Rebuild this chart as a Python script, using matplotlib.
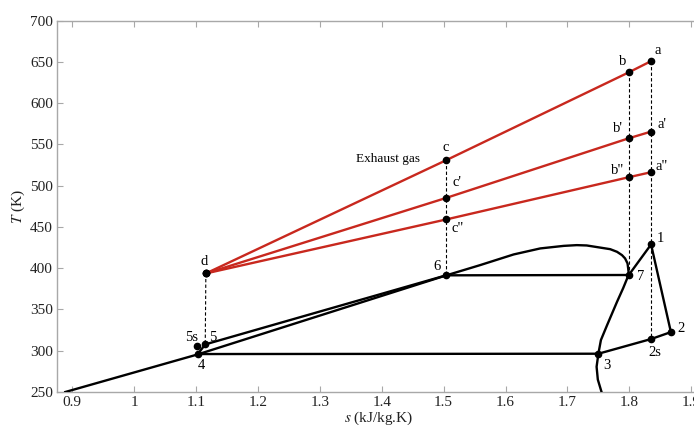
import matplotlib
matplotlib.use("Agg")
import matplotlib.pyplot as plt

plt.rcParams['font.family'] = ['Liberation Serif', 'DejaVu Serif']
plt.rcParams['mathtext.fontset'] = 'stix'

# Saturation dome (s in kJ/kg.K, T in K)
dome_s = [0.889, 1.103, 1.349, 1.504, 1.559, 1.613, 1.656, 1.694, 1.715, 1.731, 1.769,
          1.780, 1.788, 1.793, 1.797, 1.798, 1.799, 1.790, 1.780, 1.764, 1.754, 1.750,
          1.747, 1.749, 1.753, 1.755]
dome_T = [250.0, 295.6, 354.3, 391.3, 403.8, 416.7, 424.0, 427.1, 428.0, 427.6, 423.1,
          419.9, 415.9, 411.9, 405.8, 399.8, 392.5, 376.0, 359.3, 331.1, 313.0, 296.9,
          280.6, 265.0, 255.0, 250.0]

# ORC cycle state points
pt_names = ['1', '2', '2s', '3', '4', '5', '5s', '6', '7']
pt_s = [1.835, 1.867, 1.835, 1.750, 1.103, 1.115, 1.101, 1.504, 1.799]
pt_T = [428.8, 322.6, 314.2, 296.4, 296.0, 307.7, 305.7, 391.4, 391.8]

# cycle path order
cycle_order = ['3', '4', '5', '6', '7', '1', '2', '2s', '3']

# Exhaust gas lines (d -> c -> b -> a)
gas_s = [1.116, 1.504, 1.799, 1.835]
gas_T_high = [393.7, 530.9, 637.4, 651.0]
gas_T_mid = [393.7, 485.2, 557.5, 565.6]
gas_T_low = [393.7, 459.1, 510.3, 516.4]
gas_names_high = ['d', 'c', 'b', 'a']
gas_names_mid = [None, "c'", "b'", "a'"]
gas_names_low = [None, 'c"', 'b"', 'a"']

x_ticks = [0.9, 1.0, 1.1, 1.2, 1.3, 1.4, 1.5, 1.6, 1.7, 1.8, 1.9]
x_ticklabels = ['0.9', '1', '1.1', '1.2', '1.3', '1.4', '1.5', '1.6', '1.7', '1.8', '1.9']
y_ticks = [250, 300, 350, 400, 450, 500, 550, 600, 650, 700]

fig = plt.figure(figsize=(6.94, 4.25), dpi=100)
ax = fig.add_axes([57/694, 33/425, 643/694, 371.3/425])
ax.set_xlim(0.8756, 1.914)
ax.set_ylim(250, 700)

black = 'black'
red = '#c8281e'
lw = 1.7

# dome
ax.plot(dome_s, dome_T, color=black, lw=lw, zorder=3, solid_joinstyle='round')

P = dict(zip(pt_names, zip(pt_s, pt_T)))
cs = [P[n][0] for n in cycle_order]
cT = [P[n][1] for n in cycle_order]
ax.plot(cs, cT, color=black, lw=lw, zorder=3)

# gas lines
for Tg in (gas_T_high, gas_T_mid, gas_T_low):
    ax.plot(gas_s, Tg, color=red, lw=lw, zorder=3)

# dashed verticals
dash_kw = dict(color=black, lw=0.8, ls=(0, (3, 2)), zorder=2)
ax.plot([gas_s[0], P['5'][0]], [gas_T_high[0], P['5'][1]], **dash_kw)
ax.plot([gas_s[1], P['6'][0]], [gas_T_high[1], P['6'][1]], **dash_kw)
ax.plot([gas_s[2], P['7'][0]], [gas_T_high[2], P['7'][1]], **dash_kw)
ax.plot([gas_s[3], P['2s'][0]], [gas_T_high[3], P['2s'][1]], **dash_kw)

# markers
ax.plot(pt_s, pt_T, 'o', color=black, ms=4.5, zorder=5)
for Tg in (gas_T_high, gas_T_mid, gas_T_low):
    ax.plot(gas_s, Tg, 'o', color=black, ms=4.5, zorder=5)

fs = 10.5
offsets = {
    '1': (9, 6), '2': (10, 4), '2s': (4, -13), '3': (8, -12), '4': (4, -11),
    '5': (8, 7), '5s': (-5, 9), '6': (-9, 9), '7': (12, -2),
}
for n in pt_names:
    ax.annotate(n, P[n], xytext=offsets[n], textcoords='offset pixels',
                ha='center', va='center', fontsize=fs, zorder=6)

gas_offsets_high = [(-2, 12), (0, 13), (-6, 11), (7, 11)]
gas_offsets_mid = [None, (11, 15), (-11, 10), (11, 7)]
gas_offsets_low = [None, (12, -9), (-11, 7), (11, 6)]
for names, Tg, offs in ((gas_names_high, gas_T_high, gas_offsets_high),
                        (gas_names_mid, gas_T_mid, gas_offsets_mid),
                        (gas_names_low, gas_T_low, gas_offsets_low)):
    for n, s, T, o in zip(names, gas_s, Tg, offs):
        if n is None:
            continue
        ax.annotate(n, (s, T), xytext=o, textcoords='offset pixels',
                    ha='center', va='center', fontsize=fs, zorder=6)

ax.text(1.410, 532, 'Exhaust gas', ha='center', va='center', fontsize=9.5)

# axes styling
spine_c = '#a8a8a8'
for side in ('left', 'bottom', 'top', 'right'):
    ax.spines[side].set_color(spine_c)
    ax.spines[side].set_linewidth(1.0)
ax.set_xticks(x_ticks)
ax.set_xticklabels(x_ticklabels)
ax.set_yticks(y_ticks)
ax.tick_params(direction='in', length=4, width=0.8, color=spine_c,
               labelsize=11, top=True, right=True, pad=3, labelcolor='#222222')

ax.set_xlabel(r'$s$ (kJ/kg.K)', fontsize=11, labelpad=0, color='#222222')
ax.set_ylabel(r'$T$ (K)', fontsize=11, labelpad=2, color='#222222')

fig.savefig('out.png', dpi=100)
